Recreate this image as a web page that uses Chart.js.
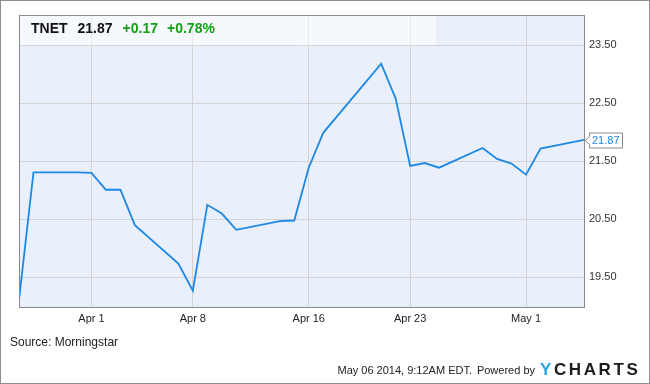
<!DOCTYPE html>
<html>
<head>
<meta charset="utf-8">
<script src="https://cdn.jsdelivr.net/npm/chart.js@4.4.1/dist/chart.umd.min.js"></script>
<style>
  html, body { margin: 0; padding: 0; background: #fff; }
  canvas { display: block; }
</style>
</head>
<body>
<canvas id="chart" width="650" height="384"></canvas>
<script>
// TNET closing prices, Mar 27 - May 5 2014
const dates = ["2014-03-27", "2014-03-28", "2014-03-31", "2014-04-01", "2014-04-02", "2014-04-03",
  "2014-04-04", "2014-04-07", "2014-04-08", "2014-04-09", "2014-04-10", "2014-04-11",
  "2014-04-14", "2014-04-15", "2014-04-16", "2014-04-17", "2014-04-21", "2014-04-22",
  "2014-04-23", "2014-04-24", "2014-04-25", "2014-04-28", "2014-04-29", "2014-04-30",
  "2014-05-01", "2014-05-02", "2014-05-05"];
const closes = [19.11, 21.31, 21.31, 21.30, 21.01, 21.01,
  20.40, 19.74, 19.27, 20.75, 20.60, 20.32,
  20.47, 20.48, 21.39, 21.99, 23.18, 22.58,
  21.42, 21.47, 21.39, 21.73, 21.54, 21.46,
  21.27, 21.72, 21.87];

const xTickDates = ["2014-04-01", "2014-04-08", "2014-04-16", "2014-04-23", "2014-05-01"];
const xTickLabels = ["Apr 1", "Apr 8", "Apr 16", "Apr 23", "May 1"];
const yTicks = [19.5, 20.5, 21.5, 22.5, 23.5];

const ticker = "TNET";
const lastPrice = "21.87";
const change = "+0.17";
const changePct = "+0.78%";

// day number counted from the first date
function dayNum(s) {
  var p = s.split("-");
  var t = Date.UTC(+p[0], +p[1] - 1, +p[2]);
  var p0 = dates[0].split("-");
  var t0 = Date.UTC(+p0[0], +p0[1] - 1, +p0[2]);
  return Math.round((t - t0) / 86400000);
}

const points = dates.map((d, i) => ({ x: dayNum(d), y: closes[i] }));
const xTickDays = xTickDates.map(dayNum);

const FONT = "'Liberation Sans', Arial, sans-serif";

const decor = {
  id: "decor",
  beforeDraw(chart) {
    const ctx = chart.ctx;
    const a = chart.chartArea;
    ctx.save();
    ctx.fillStyle = "#ffffff";
    ctx.fillRect(0, 0, chart.width, chart.height);
    ctx.fillStyle = "#e9f0fb";
    ctx.fillRect(a.left, a.top, a.right - a.left, a.bottom - a.top);
    ctx.restore();
  },
  beforeDatasetsDraw(chart) {
    const ctx = chart.ctx;
    const a = chart.chartArea;
    const y = chart.scales.y;
    ctx.save();
    ctx.fillStyle = "rgba(255,255,255,0.55)";
    ctx.fillRect(a.left, a.top, 436 - a.left, y.getPixelForValue(yTicks[yTicks.length - 1]) - a.top);
    ctx.restore();
  },
  afterDraw(chart) {
    const ctx = chart.ctx;
    const a = chart.chartArea;
    const ys = chart.scales.y;
    ctx.save();

    // plot frame
    ctx.strokeStyle = "#8a8a8a";
    ctx.lineWidth = 1;
    ctx.strokeRect(a.left + 0.5, a.top + 0.5, a.right - a.left, a.bottom - a.top);

    // outer frame
    ctx.strokeStyle = "#8f8f8f";
    ctx.strokeRect(0.5, 0.5, chart.width - 1, chart.height - 1);

    // header
    ctx.textBaseline = "middle";
    ctx.textAlign = "left";
    ctx.font = "bold 14px " + FONT;
    let x = 31;
    ctx.fillStyle = "#111";
    ctx.fillText(ticker, x, 29);
    x += ctx.measureText(ticker).width + 10;
    ctx.fillText(lastPrice, x, 29);
    x += ctx.measureText(lastPrice).width + 10;
    ctx.fillStyle = "#14a014";
    ctx.fillText(change, x, 29);
    x += ctx.measureText(change).width + 9;
    ctx.fillText(changePct, x, 29);

    // last value flag
    const py = Math.round(ys.getPixelForValue(closes[closes.length - 1])) + 0.5;
    ctx.beginPath();
    ctx.moveTo(585, py);
    ctx.lineTo(589.5, py - 4);
    ctx.lineTo(589.5, py - 7.5);
    ctx.lineTo(622.5, py - 7.5);
    ctx.lineTo(622.5, py + 7.5);
    ctx.lineTo(589.5, py + 7.5);
    ctx.lineTo(589.5, py + 4);
    ctx.closePath();
    ctx.fillStyle = "#fff";
    ctx.fill();
    ctx.strokeStyle = "#8a8a8a";
    ctx.stroke();
    ctx.fillStyle = "#1e88e5";
    ctx.font = "11px " + FONT;
    ctx.fillText(lastPrice, 592, py + 0.5);

    // footer
    ctx.fillStyle = "#222";
    ctx.font = "12px " + FONT;
    ctx.fillText("Source: Morningstar", 10, 343);
    ctx.font = "11px " + FONT;
    ctx.textAlign = "right";
    ctx.fillText("May 06 2014, 9:12AM EDT.", 472, 371);
    ctx.fillText("Powered by", 535, 371);
    ctx.textAlign = "left";

    // YCHARTS logo
    ctx.font = "bold 17px " + FONT;
    const logo = "YCHARTS";
    let lx = 540;
    for (let i = 0; i < logo.length; i++) {
      ctx.fillStyle = i === 0 ? "#2aa3e8" : "#1b1b1b";
      ctx.fillText(logo[i], lx, 370);
      lx += ctx.measureText(logo[i]).width + 2.6;
    }
    ctx.restore();
  }
};

new Chart(document.getElementById("chart"), {
  type: "line",
  data: {
    datasets: [{
      data: points,
      borderColor: "#1e88e5",
      borderWidth: 1.8,
      pointRadius: 0,
      tension: 0,
      fill: false
    }]
  },
  options: {
    responsive: false,
    animation: false,
    devicePixelRatio: 1,
    layout: { padding: { left: 19, top: 15, right: 0, bottom: 0 } },
    plugins: { legend: { display: false }, tooltip: { enabled: false } },
    scales: {
      x: {
        type: "linear",
        min: 0,
        max: dayNum(dates[dates.length - 1]),
        afterBuildTicks: (s) => { s.ticks = xTickDays.map(v => ({ value: v })); },
        afterFit: (s) => { s.height = 77; },
        grid: { color: "#d3d3d3", drawTicks: false },
        border: { display: false },
        ticks: {
          padding: 5,
          color: "#222",
          font: { size: 11, family: FONT },
          maxRotation: 0,
          autoSkip: false,
          callback: (v) => xTickLabels[xTickDays.indexOf(v)]
        }
      },
      y: {
        position: "right",
        min: 18.99,
        max: 24.02,
        afterBuildTicks: (s) => { s.ticks = yTicks.map(v => ({ value: v })); },
        afterFit: (s) => { s.width = 66; },
        grid: { color: "#d3d3d3", drawTicks: false },
        border: { display: false },
        ticks: {
          padding: 5,
          color: "#333",
          font: { size: 11, family: FONT },
          callback: (v) => v.toFixed(2)
        }
      }
    }
  },
  plugins: [decor]
});
</script>
</body>
</html>
